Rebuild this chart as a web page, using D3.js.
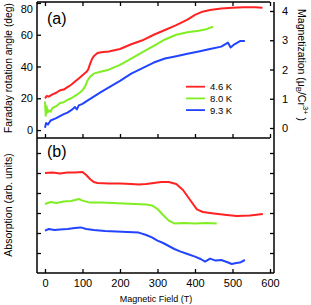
<!DOCTYPE html>
<html>
<head>
<meta charset="utf-8">
<script src="https://cdn.jsdelivr.net/npm/d3@7"></script>
<style>
  body { margin: 0; background: #fff; }
  svg { display: block; font-family: "Liberation Sans", Arial, sans-serif; }
  .axis text { font-size: 11px; fill: #000; }
  .axis line { stroke: #000; stroke-width: 1.3; }
</style>
</head>
<body>
<svg width="311" height="305"></svg>
<script>
// temperatures / legend
var temps = ["4.6 K", "8.0 K", "9.3 K"];
var colors = ["#ff2222", "#80ee22", "#2244ff"];

// (a) Faraday rotation (deg) vs field (T)
var faraday46 = [[0,20],[5,21.5],[10,21],[20,22.5],[30,23.5],[40,25],[50,25.5],[60,27],[70,28.5],[80,30.5],[90,32.5],[100,34.5],[110,36.5],[115,38],[120,41.5],[125,44.5],[130,46.5],[140,48.5],[150,49],[170,49.5],[200,51],[230,54],[260,56.5],[290,60],[320,63],[350,66],[380,69.5],[400,72.5],[420,74.5],[440,75.5],[470,76.5],[500,77],[530,77.3],[560,77.3],[580,77]];
var faraday80 = [[0,18],[2,9],[4,15],[7,11],[10,12.5],[15,11.5],[20,14],[30,15],[40,17],[50,17.5],[60,19],[70,20],[80,21.5],[90,23],[100,25],[107,27.5],[113,31],[120,33.5],[130,35.5],[145,36.5],[170,38],[200,41],[230,45],[260,49],[290,53],[320,57],[350,60],[380,61.5],[410,62.5],[430,63.5],[448,65]];
var faraday93 = [[0,1.5],[3,4.5],[8,3.5],[15,6],[30,7.5],[50,10],[60,11],[70,12.5],[80,14.5],[85,13],[90,15.5],[100,16.5],[110,18],[130,21],[150,24],[175,27.5],[200,31],[230,35.5],[260,39],[290,42.5],[320,45],[350,46.5],[380,48],[410,49.5],[440,51],[470,52.5],[488,55],[495,52],[505,54],[520,56],[533,56]];

// (b) absorption (arb. units) vs field (T)
var absorb46 = [[0,5.0],[20,5.02],[40,4.98],[60,5.02],[80,5.03],[100,5.05],[110,4.9],[120,4.7],[130,4.55],[140,4.5],[170,4.48],[200,4.47],[230,4.45],[250,4.43],[270,4.45],[290,4.5],[310,4.55],[330,4.55],[350,4.45],[368,4.15],[387,3.65],[405,3.18],[421,3.05],[450,2.98],[485,2.9],[511,2.85],[547,2.88],[581,2.95]];
var absorb80 = [[0,3.45],[15,3.55],[30,3.5],[50,3.58],[70,3.6],[90,3.7],[100,3.62],[120,3.52],[150,3.52],[180,3.5],[210,3.47],[240,3.45],[270,3.42],[285,3.38],[300,3.2],[315,2.9],[330,2.62],[345,2.48],[370,2.5],[400,2.48],[430,2.5],[458,2.48]];
var absorb93 = [[0,2.12],[10,2.2],[25,2.15],[40,2.18],[60,2.2],[80,2.25],[95,2.28],[110,2.2],[130,2.15],[160,2.1],[190,2.08],[220,2.05],[250,2.02],[270,1.9],[285,1.78],[300,1.62],[315,1.5],[330,1.35],[345,1.2],[360,1.08],[380,0.95],[400,0.82],[415,0.7],[427,0.57],[440,0.72],[455,0.62],[470,0.65],[485,0.55],[498,0.45],[510,0.5],[520,0.52],[533,0.65]];

var fieldTicks = [0, 100, 200, 300, 400, 500, 600];
var degTicks = [0, 20, 40, 60, 80];
var magTicks = [0, 1, 2, 3, 4];
var absTicks = [1, 2, 3, 4, 5, 6];

var svg = d3.select("svg");

var left = 37, right = 274, xEnd = 270;
var topA = 2, botA = 138, botB = 273;

var x = d3.scaleLinear().domain([-21.3, 600]).range([left, xEnd]);
var yDeg = d3.scaleLinear().domain([-5, 80.6]).range([botA, topA]);
var yMag = d3.scaleLinear().domain([-0.342, 4.308]).range([botA, topA]);
var yAbs = d3.scaleLinear().domain([0, 6.75]).range([botB, botA]);

// frame
var frame = [
    [left, topA, xEnd, topA],
    [left, botA, xEnd, botA],
    [left, botB, right, botB],
    [left, topA, left, botB],
    [right, topA, right, botB]
];
svg.selectAll("line.frame")
    .data(frame)
    .enter()
    .append("line")
    .attr("class", "frame")
    .attr("x1", function(d) { return d[0]; })
    .attr("y1", function(d) { return d[1]; })
    .attr("x2", function(d) { return d[2]; })
    .attr("y2", function(d) { return d[3]; })
    .attr("stroke", "#000")
    .attr("stroke-width", 1.5);

function cleanAxis(g) {
    g.select(".domain").remove();
    g.attr("font-family", null).attr("font-size", null);
}

// x axes
svg.append("g").attr("class", "axis")
    .attr("transform", "translate(0," + topA + ")")
    .call(d3.axisTop(x).tickValues(fieldTicks).tickSizeInner(-4).tickSizeOuter(0).tickFormat(""))
    .call(cleanAxis);
svg.append("g").attr("class", "axis")
    .attr("transform", "translate(0," + botA + ")")
    .call(d3.axisBottom(x).tickValues(fieldTicks).tickSizeInner(-4).tickSizeOuter(0).tickFormat(""))
    .call(cleanAxis);
svg.append("g").attr("class", "axis")
    .attr("transform", "translate(0," + botB + ")")
    .call(d3.axisBottom(x).tickValues(fieldTicks).tickSizeInner(-4).tickSizeOuter(0).tickPadding(6))
    .call(cleanAxis);

// y axes
svg.append("g").attr("class", "axis")
    .attr("transform", "translate(" + left + ",0)")
    .call(d3.axisLeft(yDeg).tickValues(degTicks).tickSizeInner(-4).tickSizeOuter(0).tickPadding(4))
    .call(cleanAxis)
    .selectAll("text")
    .filter(function(d) { return d === 80; })
    .attr("dy", "0.85em"); // keep the top label inside the window
svg.append("g").attr("class", "axis")
    .attr("transform", "translate(" + right + ",0)")
    .call(d3.axisRight(yMag).tickValues(magTicks).tickSizeInner(-4).tickSizeOuter(0).tickPadding(8).tickFormat(d3.format("d")))
    .call(cleanAxis);
svg.append("g").attr("class", "axis")
    .attr("transform", "translate(" + left + ",0)")
    .call(d3.axisLeft(yAbs).tickValues(absTicks).tickSizeInner(-4).tickSizeOuter(0).tickFormat(""))
    .call(cleanAxis);
svg.append("g").attr("class", "axis")
    .attr("transform", "translate(" + right + ",0)")
    .call(d3.axisRight(yAbs).tickValues(absTicks).tickSizeInner(-4).tickSizeOuter(0).tickFormat(""))
    .call(cleanAxis);

// curves
var lineA = d3.line().x(function(d) { return x(d[0]); }).y(function(d) { return yDeg(d[1]); });
var lineB = d3.line().x(function(d) { return x(d[0]); }).y(function(d) { return yAbs(d[1]); });

[faraday46, faraday80, faraday93].forEach(function(s, i) {
    svg.append("path").datum(s)
        .attr("d", lineA)
        .attr("fill", "none")
        .attr("stroke", colors[i])
        .attr("stroke-width", 2)
        .attr("stroke-linejoin", "round");
});
[absorb46, absorb80, absorb93].forEach(function(s, i) {
    svg.append("path").datum(s)
        .attr("d", lineB)
        .attr("fill", "none")
        .attr("stroke", colors[i])
        .attr("stroke-width", 2)
        .attr("stroke-linejoin", "round");
});

// legend
var legend = svg.selectAll("g.legend")
    .data(temps)
    .enter()
    .append("g")
    .attr("class", "legend")
    .attr("transform", function(d, i) { return "translate(186," + (86.7 + i * 11.7) + ")"; });
legend.append("line")
    .attr("x1", 0).attr("x2", 19)
    .attr("stroke", function(d, i) { return colors[i]; })
    .attr("stroke-width", 1.8);
legend.append("text")
    .attr("x", 24).attr("y", 3.5)
    .attr("font-size", "9.5px")
    .text(function(d) { return d; });

// panel labels
svg.append("text").attr("x", 47).attr("y", 24).attr("font-size", "16px").text("(a)");
svg.append("text").attr("x", 47).attr("y", 157).attr("font-size", "16px").text("(b)");

// axis titles
svg.append("text")
    .attr("transform", "translate(12,68) rotate(-90)")
    .attr("text-anchor", "middle")
    .attr("font-size", "10.3px")
    .text("Faraday rotation angle (deg)");
svg.append("text")
    .attr("transform", "translate(12,205) rotate(-90)")
    .attr("text-anchor", "middle")
    .attr("font-size", "10.5px")
    .text("Absorption (arb. units)");
svg.append("text")
    .attr("x", 156).attr("y", 302)
    .attr("text-anchor", "middle")
    .attr("font-size", "9px")
    .text("Magnetic Field (T)");

var mag = svg.append("text")
    .attr("transform", "translate(298,65) rotate(90)")
    .attr("text-anchor", "middle")
    .attr("font-size", "10.5px");
mag.append("tspan").text("Magnetization (\u03bc");
mag.append("tspan").attr("font-size", "7.5px").attr("dy", 2.5).text("B");
mag.append("tspan").attr("dy", -2.5).text("/Cr");
mag.append("tspan").attr("font-size", "7.5px").attr("dy", -4.5).text("3+");
mag.append("tspan").attr("dy", 4.5).text(" )");
</script>
</body>
</html>
